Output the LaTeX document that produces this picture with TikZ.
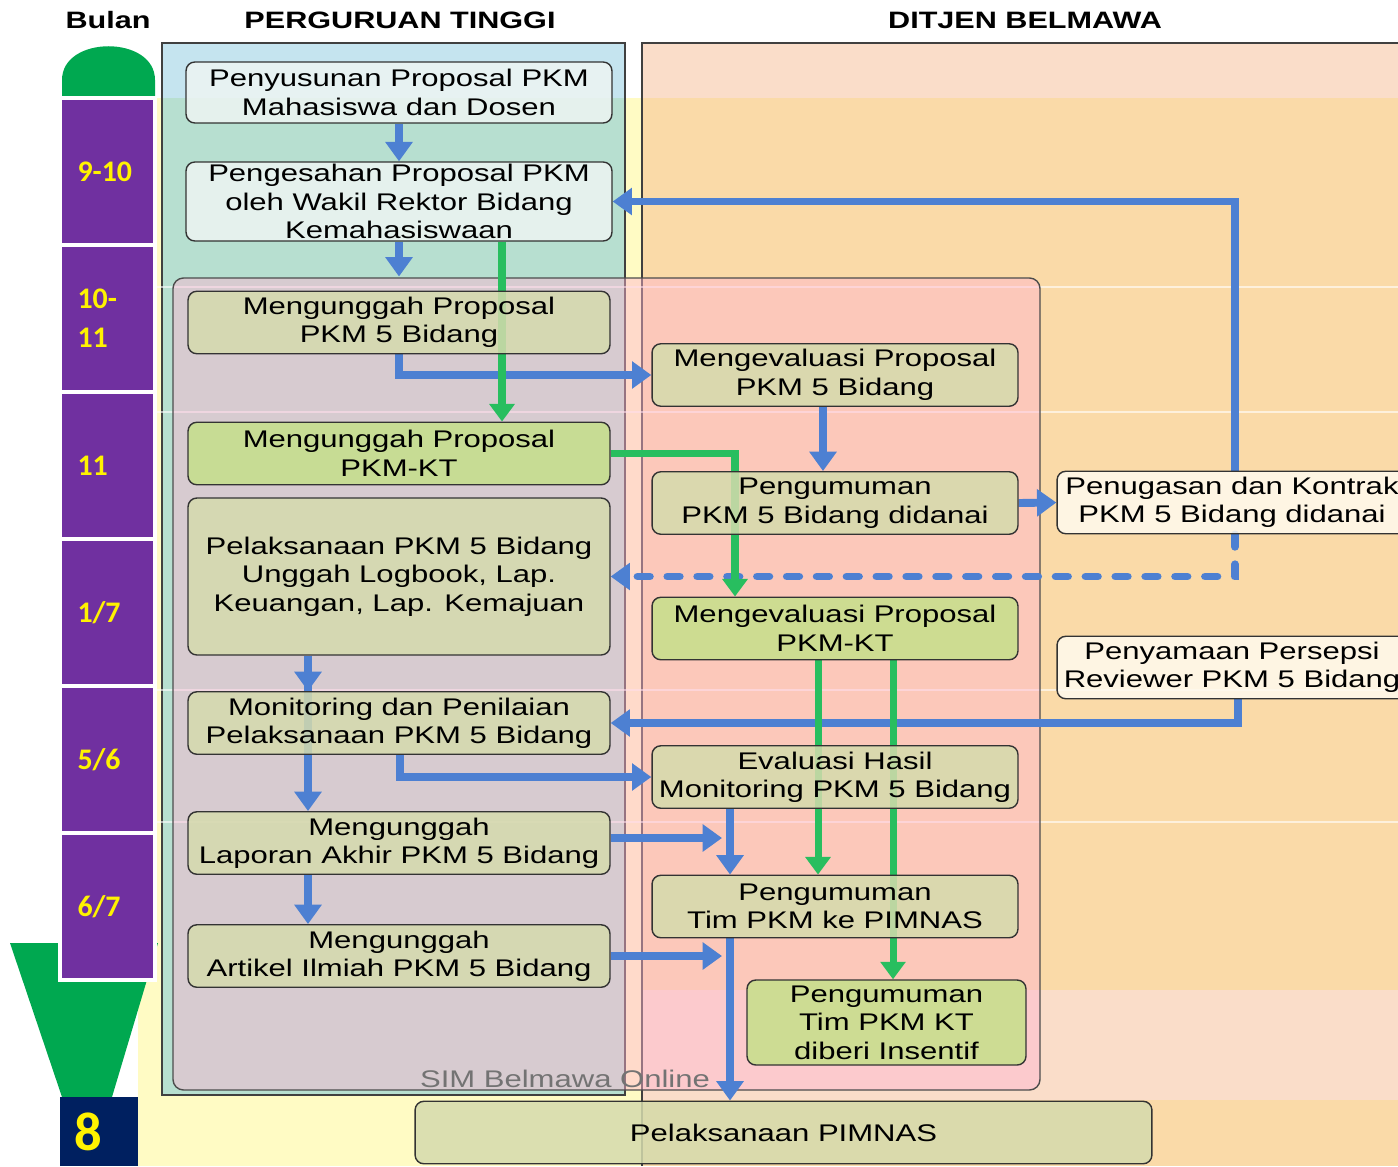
\documentclass[tikz,border=0pt]{standalone}
\usepackage{fontspec}
\setmainfont[FakeStretch=1.29]{Liberation Sans}
\newfontfamily\monthfont{Carlito}
\usetikzlibrary{arrows.meta, positioning}
\pgfdeclarelayer{panels}
\pgfdeclarelayer{links}
\pgfsetlayers{panels,links,main}
\definecolor{ptblue}{RGB}{197,228,239}
\definecolor{ptteal}{RGB}{183,223,208}
\definecolor{bandyellow}{RGB}{255,251,196}
\definecolor{djpeach}{RGB}{250,221,201}
\definecolor{djorange}{RGB}{250,218,168}
\definecolor{simpink}{RGB}{255,180,210}
\definecolor{boxolive}{RGB}{213,219,173}
\definecolor{boxgreen}{RGB}{197,224,138}
\definecolor{boxwhite}{RGB}{238,245,243}
\definecolor{boxcream}{RGB}{255,250,238}
\definecolor{monthpurple}{RGB}{112,48,160}
\definecolor{monthnavy}{RGB}{0,32,96}
\definecolor{domegreen}{RGB}{0,168,80}
\definecolor{flowblue}{RGB}{77,128,210}
\definecolor{flowgreen}{RGB}{40,190,95}
\tikzset{
  stage/.style={draw=black!80, line width=0.8pt, rounded corners=5pt, fill opacity=0.85, text opacity=1,
    align=center, inner sep=1pt, font=\fontsize{13.7}{16.2}\selectfont},
  ptbox/.style={stage, fill=boxolive, minimum width=8.44cm, minimum height=1.25cm},
  djbox/.style={stage, fill=boxolive, minimum width=7.32cm, minimum height=1.25cm},
  month/.style={draw=white, line width=2pt, fill=monthpurple, minimum width=1.9cm, minimum height=2.94cm,
    text width=1.2cm, align=left, inner sep=0pt, text=yellow, font=\monthfont\bfseries\fontsize{17}{20}\selectfont},
  header/.style={font=\bfseries\fontsize{13.5}{16}\selectfont},
  bline/.style={flowblue, line width=4.5pt},
  barrow/.style={bline, -{Triangle[width=15pt,length=11pt]}},
  garrow/.style={flowgreen, line width=4pt, -{Triangle[width=14pt,length=10pt]}}
}
\begin{document}
\begin{tikzpicture}[x=0.02cm, y=-0.02cm]
\useasboundingbox (0,0) rectangle (1398,1166);

% Lanes and bands
\begin{pgfonlayer}{panels}
  \fill[white] (0,0) rectangle (1398,1166);
  \fill[bandyellow] (138,98) rectangle (642,1166);
  \fill[ptblue] (162,43) rectangle (625,98);
  \fill[ptteal] (162,98) rectangle (625,1095);
  \draw[black!75, line width=0.8pt] (162,43) rectangle (625,1095);
  \fill[djpeach] (642,43) rectangle (1400,98);
  \fill[djorange] (642,98) rectangle (1400,1166);
  \fill[djpeach] (642,990) rectangle (1400,1100);
  \draw[black!75, line width=0.8pt] (1400,43) -- (642,43) -- (642,1166);
  \draw[white, line width=0.6pt, opacity=0.6] (138,287) -- (1400,287) (138,412) -- (1400,412)
    (138,690) -- (1400,690) (138,822) -- (1400,822);
  % SIM Belmawa panel
  \filldraw[fill=simpink, fill opacity=0.45, draw=black!70, line width=0.8pt, rounded corners=6pt]
    (173,278) rectangle (1040,1090);
\end{pgfonlayer}
\node[text=black!55, font=\fontsize{13.7}{16}\selectfont] (sim) at (565,1079) {SIM Belmawa Online};

% Column headers
\node[header] (hBulan) at (108,20) {Bulan};
\node[header] (hPT) at (400,20) {PERGURUAN TINGGI};
\node[header] (hDB) at (1025,20) {DITJEN BELMAWA};

% Month column
\fill[domegreen] (62,98) -- (62,80) .. controls (62,35) and (155,35) .. (155,80) -- (155,98) -- cycle;
\fill[domegreen] (10,943) -- (158,943) -- (112,1097) -- (62,1097) -- cycle;
\node[month] (mA) at (107.5,171.5) {9-10};
\node[month] (mB) at (107.5,318.5) {10-\\[2pt]11};
\node[month] (mC) at (107.5,465.5) {11};
\node[month] (mD) at (107.5,612.5) {1/7};
\node[month] (mE) at (107.5,759.5) {5/6};
\node[month] (mF) at (107.5,906.5) {6/7};
\node[fill=monthnavy, minimum width=1.56cm, minimum height=1.38cm, text width=1cm, align=left, inner sep=0pt,
  text=yellow, font=\monthfont\bfseries\fontsize{31}{34}\selectfont] (mG) at (99,1131.5) {8};

% Perguruan Tinggi
\node[ptbox, fill=boxwhite, minimum width=8.52cm, minimum height=1.22cm] (penyusunan) at (399,92.5)
  {Penyusunan Proposal PKM\\Mahasiswa dan Dosen};
\node[ptbox, fill=boxwhite, minimum width=8.52cm, minimum height=1.58cm] (pengesahan) at (399,201.5)
  {Pengesahan Proposal PKM\\oleh Wakil Rektor Bidang\\Kemahasiswaan};
\node[ptbox] (unggah) at (399,322.5) {Mengunggah Proposal\\PKM 5 Bidang};
\node[ptbox, fill=boxgreen] (unggahKT) at (399,453.5) {Mengunggah Proposal\\PKM-KT};
\node[ptbox, minimum height=3.14cm] (pelaksanaan) at (399,576.5)
  {Pelaksanaan PKM 5 Bidang\\Unggah Logbook, Lap.\\Keuangan, Lap. Kemajuan};
\node[ptbox] (monitoring) at (399,723) {Monitoring dan Penilaian\\Pelaksanaan PKM 5 Bidang};
\node[ptbox] (laporan) at (399,843) {Mengunggah\\Laporan Akhir PKM 5 Bidang};
\node[ptbox] (artikel) at (399,956) {Mengunggah\\Artikel Ilmiah PKM 5 Bidang};

% Ditjen Belmawa
\node[djbox] (evaluasi) at (835,375) {Mengevaluasi Proposal\\PKM 5 Bidang};
\node[djbox] (didanai) at (835,503) {Pengumuman\\PKM 5 Bidang didanai};
\node[djbox, fill=boxgreen] (evaluasiKT) at (835,628.5) {Mengevaluasi Proposal\\PKM-KT};
\node[djbox] (evalMonitor) at (835,777) {Evaluasi Hasil\\Monitoring PKM 5 Bidang};
\node[djbox] (pimnasTim) at (835,906.5) {Pengumuman\\Tim PKM ke PIMNAS};
\node[djbox, fill=boxgreen, minimum width=5.58cm, minimum height=1.7cm] (insentif) at (886.5,1022.5)
  {Pengumuman\\Tim PKM KT\\diberi Insentif};
\node[djbox, fill=boxcream, minimum width=7cm] (kontrak) at (1232,502.5) {Penugasan dan Kontrak\\PKM 5 Bidang didanai};
\node[djbox, fill=boxcream, minimum width=7cm] (persepsi) at (1232,667.5) {Penyamaan Persepsi\\Reviewer PKM 5 Bidang};
\node[djbox, minimum width=14.74cm] (pimnas) at (783.5,1132.5) {Pelaksanaan PIMNAS};

\coordinate (laporanEnd) at (722,838);
\coordinate (artikelEnd) at (722,956);

% Flow
\begin{pgfonlayer}{links}
  \draw[barrow] (penyusunan.south) -- (pengesahan.north);
  \draw[barrow, shorten >=8pt] (pengesahan.south) -- (unggah.north);
  \draw[barrow] (unggah.south) |- (evaluasi.west);
  \draw[barrow] (evaluasi.south -| 823,0) -- (didanai.north -| 823,0);
  \draw[barrow] (didanai.east) -- (kontrak.west);
  \draw[barrow] (kontrak.north -| 1235,0) |- (pengesahan.east);
  \draw[barrow, dash pattern=on 7pt off 10pt, line cap=round] (kontrak.south -| 1235,0) |- (pelaksanaan.east);
  \draw[barrow] (pelaksanaan.south -| 308,0) -- (monitoring.north -| 308,0);
  \draw[barrow] (pelaksanaan.south -| 308,0) -- (laporan.north -| 308,0);
  \draw[barrow] (laporan.south -| 308,0) -- (artikel.north -| 308,0);
  \draw[barrow] (monitoring.south -| 400,0) |- (evalMonitor.west);
  \draw[barrow] (persepsi.south -| 1238,0) |- (monitoring.east);
  \draw[barrow] (evalMonitor.south -| 730,0) -- (pimnasTim.north -| 730,0);
  \draw[barrow] (laporan.east |- laporanEnd) -- (laporanEnd);
  \draw[barrow] (artikel.east) -- (artikelEnd);
  \draw[barrow] (pimnasTim.south -| 730,0) -- (pimnas.north -| 730,0);
  \draw[garrow] (pengesahan.south -| 502,0) -- (unggahKT.north -| 502,0);
  \draw[garrow] (unggahKT.east) -| (evaluasiKT.north -| 735,0);
  \draw[garrow] (evaluasiKT.south -| 818,0) -- (pimnasTim.north -| 818,0);
  \draw[garrow] (evaluasiKT.south -| 893,0) -- (insentif.north -| 893,0);
\end{pgfonlayer}
\end{tikzpicture}
\end{document}
